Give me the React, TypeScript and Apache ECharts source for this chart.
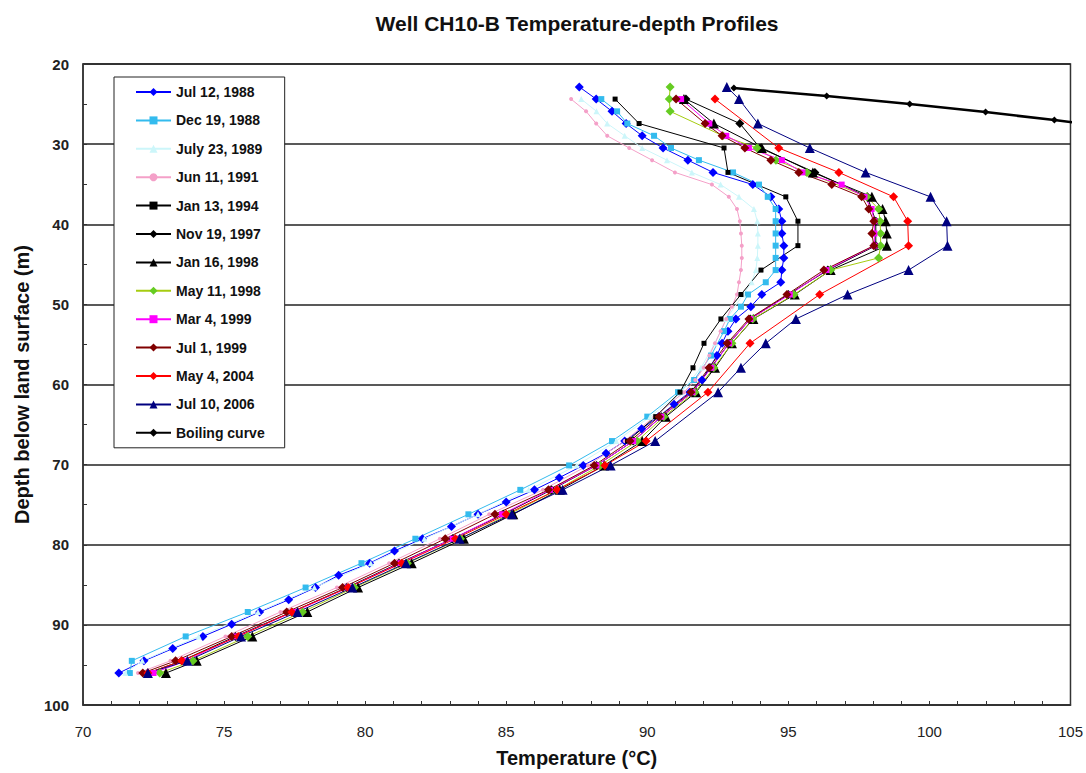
import React, { useEffect, useRef } from "react";
import * as echarts from "echarts";

// Each profile is a list of [temperature °C, depth m] readings.
type Pt = [number, number];

const jul1988: Pt[] = [
  [87.59, 22.86], [88.19, 24.38], [88.75, 25.91], [89.25, 27.43], [89.82, 28.96],
  [90.56, 30.48], [91.44, 32.0], [92.33, 33.53], [93.74, 35.05], [94.38, 36.58],
  [94.66, 38.1], [94.77, 39.62], [94.77, 41.15], [94.84, 42.67], [94.84, 44.2],
  [94.77, 45.72], [94.73, 47.24], [94.06, 48.77], [93.67, 50.29], [93.14, 51.82],
  [92.86, 53.34], [92.65, 54.86], [92.47, 56.39], [92.2, 57.91], [91.94, 59.44],
  [91.5, 60.96], [90.95, 62.48], [90.4, 64.01], [89.8, 65.53], [89.2, 67.06],
  [88.54, 68.58], [87.73, 70.1], [86.88, 71.63], [86.0, 73.15], [85.0, 74.68],
  [84.0, 76.2], [83.06, 77.72], [82.03, 79.25], [81.04, 80.77], [80.16, 82.3],
  [79.06, 83.82], [78.24, 85.34], [77.29, 86.87], [76.26, 88.39], [75.27, 89.92],
  [74.25, 91.44], [73.18, 92.96], [72.16, 94.49], [71.27, 96.01],
];

const dec1988: Pt[] = [
  [88.37, 24.38], [88.93, 25.91], [89.29, 27.43], [90.24, 28.96], [90.84, 30.48],
  [91.83, 32.0], [93.04, 33.53], [93.96, 35.05], [94.27, 36.58], [94.55, 38.1],
  [94.55, 39.62], [94.55, 41.15], [94.55, 42.67], [94.55, 44.2], [94.55, 45.72],
  [94.2, 47.24], [93.57, 48.77], [93.32, 50.29], [92.93, 51.82], [92.72, 53.34],
  [92.26, 56.39], [91.66, 59.44], [91.09, 60.96], [90.0, 64.01], [88.75, 67.06],
  [87.23, 70.1], [85.5, 73.15], [83.66, 76.2], [81.78, 79.25], [79.87, 82.3],
  [77.89, 85.34], [75.84, 88.39], [73.64, 91.44], [71.73, 94.49], [71.66, 96.01],
];

const jul1989: Pt[] = [
  [87.66, 24.38], [88.2, 25.91], [88.58, 27.43], [89.2, 28.96], [89.82, 30.48],
  [90.7, 32.0], [91.58, 33.53], [92.6, 35.05], [93.25, 36.58], [93.78, 38.1],
  [93.9, 39.62], [93.92, 41.15], [93.92, 42.67], [93.9, 44.2], [93.85, 45.72],
  [93.7, 47.24], [93.4, 48.77], [92.8, 51.82], [92.4, 54.86], [91.9, 57.91],
  [91.2, 60.96], [90.1, 64.01], [88.9, 67.06], [87.5, 70.1], [85.8, 73.15],
  [84.0, 76.2], [82.1, 79.25], [80.2, 82.3], [78.2, 85.34], [76.2, 88.39],
  [74.1, 91.44], [72.1, 94.49], [71.5, 96.01],
];

const jun1991: Pt[] = [
  [87.3, 24.38], [87.83, 25.91], [88.19, 27.43], [88.58, 28.96], [89.36, 30.48],
  [90.17, 32.0], [90.98, 33.53], [92.29, 35.05], [92.89, 36.58], [93.18, 38.1],
  [93.28, 39.62], [93.32, 41.15], [93.35, 42.67], [93.35, 44.2], [93.32, 45.72],
  [93.25, 47.24], [93.18, 48.77], [93.0, 50.29], [92.8, 51.82], [92.6, 53.34],
  [92.4, 54.86], [92.2, 56.39], [92.0, 57.91], [91.7, 59.44], [91.3, 60.96],
  [90.25, 64.01], [89.2, 67.06], [87.9, 70.1], [86.3, 73.15], [84.4, 76.2],
  [82.65, 79.25], [80.85, 82.3], [79.0, 85.34], [77.0, 88.39], [75.05, 91.44],
  [73.1, 94.49], [71.95, 96.01],
];

const jan1994: Pt[] = [
  [88.86, 24.38], [89.71, 27.43], [92.72, 30.48], [92.86, 33.53], [94.91, 36.58],
  [95.34, 39.62], [95.34, 42.67], [94.03, 45.72], [93.32, 48.77], [92.61, 51.82],
  [92.01, 54.86], [91.62, 57.91], [91.16, 60.96], [90.3, 64.01], [89.3, 67.06],
];

const nov1997: Pt[] = [
  [91.37, 24.38], [93.28, 27.43], [94.0, 30.48], [95.94, 33.53], [97.8, 36.58],
  [98.1, 39.62], [98.1, 42.67], [96.4, 45.72], [95.0, 48.77], [93.65, 51.82],
  [92.9, 54.86], [92.25, 57.91], [91.6, 60.96], [90.5, 64.01], [89.5, 67.06],
  [88.2, 70.1], [86.6, 73.15], [84.9, 76.2], [83.1, 79.25], [81.2, 82.3],
  [79.35, 85.34], [77.4, 88.39], [75.4, 91.44], [73.5, 94.49], [72.3, 96.01],
];

const jan1998: Pt[] = [
  [91.3, 24.38], [92.36, 27.43], [94.06, 30.48], [95.87, 33.53], [97.96, 36.58],
  [98.34, 38.1], [98.45, 39.62], [98.49, 41.15], [98.49, 42.67], [96.5, 45.72],
  [95.23, 48.77], [93.76, 51.82], [93.0, 54.86], [92.4, 57.91], [91.73, 60.96],
  [90.66, 64.01], [89.82, 67.06], [88.47, 70.1], [86.9, 73.15], [85.25, 76.2],
  [83.5, 79.25], [81.65, 82.3], [79.75, 85.34], [77.95, 88.39], [76.0, 91.44],
  [74.03, 94.49], [72.94, 96.01],
];

const may1998: Pt[] = [
  [90.81, 22.86], [90.78, 24.38], [90.81, 25.91], [92.68, 28.96], [93.89, 30.48],
  [94.56, 32.0], [95.66, 33.53], [97.78, 36.58], [98.2, 38.1], [98.25, 39.62],
  [98.27, 41.15], [98.27, 42.67], [98.2, 44.2], [96.5, 45.72], [95.2, 48.77],
  [93.74, 51.82], [93.0, 54.86], [92.36, 57.91], [91.69, 60.96], [90.59, 64.01],
  [89.64, 67.06], [88.33, 70.1], [86.8, 73.15], [85.1, 76.2], [83.38, 79.25],
  [81.5, 82.3], [79.62, 85.34], [77.78, 88.39], [75.84, 91.44], [73.9, 94.49],
  [72.72, 96.01],
];

const mar1999: Pt[] = [
  [91.2, 24.38], [92.2, 27.43], [92.8, 28.96], [93.6, 30.48], [94.77, 32.0],
  [95.5, 33.53], [96.89, 35.05], [97.7, 36.58], [97.95, 38.1], [98.05, 39.62],
  [98.05, 41.15], [98.05, 42.67], [96.35, 45.72], [95.05, 48.77], [93.65, 51.82],
  [92.9, 54.86], [92.27, 57.91], [91.6, 60.96], [90.5, 64.01], [89.5, 67.06],
  [88.2, 70.1], [86.55, 73.15], [84.85, 76.2], [83.1, 79.25], [81.25, 82.3],
  [79.4, 85.34], [77.45, 88.39], [75.45, 91.44], [73.64, 94.49], [72.5, 96.01],
];

const jul1999: Pt[] = [
  [91.02, 24.38], [92.05, 27.43], [92.65, 28.96], [93.46, 30.48], [94.38, 32.0],
  [95.37, 33.53], [96.54, 35.05], [97.6, 36.58], [97.85, 38.1], [98.03, 39.62],
  [97.96, 41.15], [98.03, 42.67], [96.26, 45.72], [94.95, 48.77], [93.6, 51.82],
  [92.83, 54.86], [92.19, 57.91], [91.55, 60.96], [90.42, 64.01], [89.39, 67.06],
  [88.12, 70.1], [86.5, 73.15], [84.6, 76.2], [82.84, 79.25], [81.04, 82.3],
  [79.2, 85.34], [77.22, 88.39], [75.27, 91.44], [73.28, 94.49], [72.12, 96.01],
];

const may2004: Pt[] = [
  [92.4, 24.38], [94.66, 30.48], [96.79, 33.53], [98.73, 36.58], [99.23, 39.62],
  [99.26, 42.67], [96.11, 48.77], [93.64, 54.86], [92.15, 60.96], [89.96, 67.06],
  [88.5, 70.1], [86.8, 73.15], [85.0, 76.2], [83.2, 79.25], [81.3, 82.3],
  [79.4, 85.34], [77.4, 88.39], [75.5, 91.44], [73.5, 94.49], [72.3, 96.01],
];

const jul2006: Pt[] = [
  [92.82, 22.86], [93.25, 24.38], [93.92, 27.43], [95.76, 30.48], [97.74, 33.53],
  [100.04, 36.58], [100.61, 39.62], [100.64, 42.67], [99.26, 45.72], [97.1, 48.77],
  [95.27, 51.82], [94.2, 54.86], [93.32, 57.91], [92.51, 60.96], [90.28, 67.06],
  [88.7, 70.1], [87.0, 73.15], [85.2, 76.2], [83.35, 79.25], [81.45, 82.3],
  [79.55, 85.34], [77.6, 88.39], [75.6, 91.44], [73.7, 94.49], [72.3, 96.01],
];

const boilingCurve: Pt[] = [
  [93.07, 23], [96.36, 24], [99.3, 25], [101.99, 26], [104.43, 27], [106.7, 28],
];

const depthTicks = [20, 30, 40, 50, 60, 70, 80, 90, 100];
const tempTicks = [70, 75, 80, 85, 90, 95, 100, 105];

interface Profile {
  name: string;
  data: Pt[];
  line: string;
  marker: string;
  symbol: string;
  size: number;
  width?: number;
}

const profiles: Profile[] = [
  { name: "Jul 12, 1988", data: jul1988, line: "#0000FF", marker: "#0000FF", symbol: "diamond", size: 9 },
  { name: "Dec 19, 1988", data: dec1988, line: "#33BBEE", marker: "#33BBEE", symbol: "rect", size: 6 },
  { name: "July 23, 1989", data: jul1989, line: "#CCF6FA", marker: "#CCF6FA", symbol: "triangle", size: 6 },
  { name: "Jun 11, 1991", data: jun1991, line: "#F4A0C8", marker: "#F4A0C8", symbol: "circle", size: 4 },
  { name: "Jan 13, 1994", data: jan1994, line: "#000000", marker: "#000000", symbol: "rect", size: 5 },
  { name: "Nov 19, 1997", data: nov1997, line: "#000000", marker: "#000000", symbol: "diamond", size: 9 },
  { name: "Jan 16, 1998", data: jan1998, line: "#000000", marker: "#000000", symbol: "triangle", size: 10 },
  { name: "May 11, 1998", data: may1998, line: "#A6CC10", marker: "#66CC22", symbol: "diamond", size: 9 },
  { name: "Mar 4, 1999", data: mar1999, line: "#FF00FF", marker: "#FF00FF", symbol: "rect", size: 6 },
  { name: "Jul 1, 1999", data: jul1999, line: "#800000", marker: "#800000", symbol: "diamond", size: 9 },
  { name: "May 4, 2004", data: may2004, line: "#FF0000", marker: "#FF0000", symbol: "diamond", size: 9 },
  { name: "Jul 10, 2006", data: jul2006, line: "#000080", marker: "#000080", symbol: "triangle", size: 10 },
  { name: "Boiling curve", data: boilingCurve, line: "#000000", marker: "#000000", symbol: "diamond", size: 7, width: 2.5 },
];

const FONT = "Arial, 'Liberation Sans', sans-serif";

export default function App() {
  const ref = useRef<HTMLDivElement>(null);

  useEffect(() => {
    if (!ref.current) return;
    const chart = echarts.init(ref.current, undefined, { renderer: "svg" });

    chart.setOption({
      animation: false,
      backgroundColor: "#ffffff",
      title: {
        text: "Well CH10-B Temperature-depth Profiles",
        left: 572,
        top: 8,
        textAlign: "center",
        textStyle: { fontFamily: FONT, fontSize: 21, fontWeight: "bold", color: "#111" },
      },
      grid: {
        left: 83,
        top: 64,
        right: 14,
        bottom: 65,
        show: true,
        borderColor: "#333",
        borderWidth: 1.5,
        backgroundColor: "#ffffff",
      },
      legend: {
        orient: "vertical",
        left: 114,
        top: 77,
        padding: [8, 20, 8, 21],
        itemWidth: 35,
        itemHeight: 10,
        itemGap: 14.4,
        backgroundColor: "#ffffff",
        borderColor: "#222",
        borderWidth: 1,
        borderRadius: 0,
        textStyle: { fontFamily: FONT, fontSize: 14, fontWeight: "bold", color: "#111", lineHeight: 13 },
        data: profiles.map((p) => p.name),
      },
      xAxis: {
        type: "value",
        min: tempTicks[0],
        max: tempTicks[tempTicks.length - 1],
        interval: 5,
        name: "Temperature (°C)",
        nameLocation: "middle",
        nameGap: 43,
        nameTextStyle: { fontFamily: FONT, fontSize: 20, fontWeight: "bold", color: "#111" },
        axisLine: { lineStyle: { color: "#333", width: 1.5 } },
        axisTick: { inside: true, length: 4, lineStyle: { color: "#333" } },
        minorTick: { show: true, splitNumber: 5, length: 4, lineStyle: { color: "#333" } },
        axisLabel: { fontFamily: FONT, fontSize: 15, color: "#222", margin: 19 },
        splitLine: { show: false },
      },
      yAxis: {
        type: "value",
        inverse: true,
        min: depthTicks[0],
        max: depthTicks[depthTicks.length - 1],
        interval: 10,
        name: "Depth below land surface (m)",
        nameLocation: "middle",
        nameGap: 51,
        nameRotate: 90,
        nameTextStyle: { fontFamily: FONT, fontSize: 20, fontWeight: "bold", color: "#111" },
        axisLine: { lineStyle: { color: "#333", width: 1.5 } },
        axisTick: { inside: true, length: 4, lineStyle: { color: "#333" } },
        minorTick: { show: true, splitNumber: 2, length: 4, lineStyle: { color: "#333" } },
        axisLabel: { fontFamily: FONT, fontSize: 15, fontWeight: "bold", color: "#222", margin: 14 },
        splitLine: { show: true, lineStyle: { color: "#222", width: 1.5 } },
      },
      series: profiles.map((p) => ({
        type: "line",
        name: p.name,
        data: p.data,
        symbol: p.symbol,
        symbolSize: p.size,
        showSymbol: true,
        clip: true,
        lineStyle: { color: p.line, width: p.width ?? 1 },
        itemStyle: { color: p.marker, borderWidth: 0 },
        emphasis: { disabled: true },
      })),
    });

    return () => chart.dispose();
  }, []);

  return (
    <div
      ref={ref}
      style={{ position: "absolute", left: 0, top: 0, width: 1086, height: 773 }}
    />
  );
}
